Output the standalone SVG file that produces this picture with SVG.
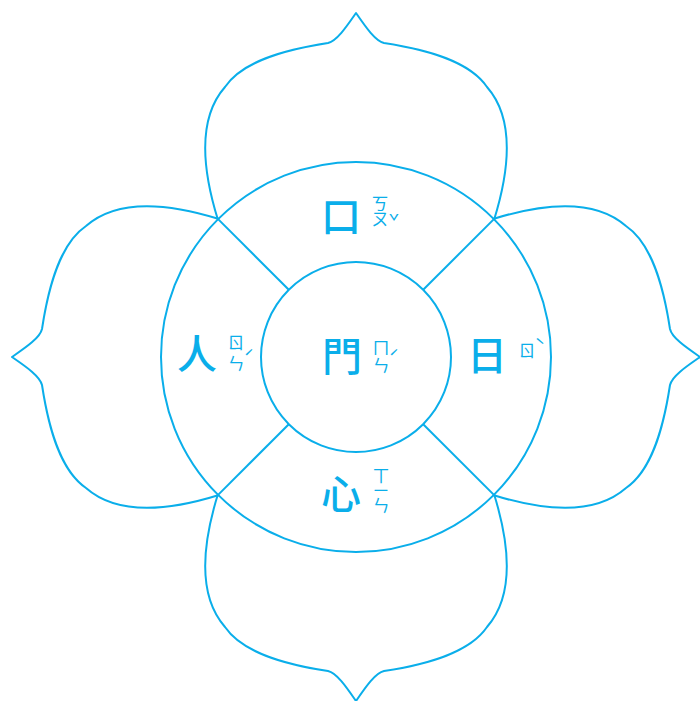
<svg xmlns="http://www.w3.org/2000/svg" width="700" height="701" viewBox="0 0 700 701">
<defs>
<style>
.ln{fill:none;stroke:#0aaeea;stroke-width:2;stroke-linejoin:round}
.big{font-family:"Noto Sans CJK TC","Noto Sans CJK SC",sans-serif;font-size:40px;font-weight:500;fill:#0aaeea;text-anchor:middle;dominant-baseline:central}
.zy{font-family:"Noto Sans CJK TC","Noto Sans CJK SC",sans-serif;font-size:17px;fill:#0aaeea;writing-mode:vertical-rl}
.tone{font-family:"Noto Sans CJK TC","Noto Sans CJK SC",sans-serif;font-size:18px;fill:#0aaeea;text-anchor:middle;dominant-baseline:central}
</style>
<path id="petal" d="M218,220 C204,175 196,120 225,87 C242,62 282,50 328,43 C337,41 347,26 356,13 C365,26 375,41 384,43 C430,50 470,62 487,87 C516,120 508,175 494,220"/>
</defs>
<rect width="700" height="701" fill="#ffffff"/>
<g id="petals" class="ln">
<use href="#petal"/>
<use href="#petal" transform="rotate(90 356 357)"/>
<use href="#petal" transform="rotate(180 356 357)"/>
<use href="#petal" transform="rotate(270 356 357)"/>
</g>
<g id="ring">
<circle class="ln" cx="356" cy="357" r="195"/>
</g>
<g id="connectors" class="ln">
<line x1="288.8" y1="289.8" x2="218.1" y2="219.1"/>
<line x1="423.2" y1="289.8" x2="493.9" y2="219.1"/>
<line x1="288.8" y1="424.2" x2="218.1" y2="494.9"/>
<line x1="423.2" y1="424.2" x2="493.9" y2="494.9"/>
</g>
<g id="center-men">
<circle class="ln" cx="356" cy="357" r="95"/>
<text class="big" x="342" y="354">門</text>
<text class="zy" x="381" y="339" letter-spacing="1">ㄇㄣ</text>
<text class="tone" x="394" y="357">ˊ</text>
</g>
<g id="kou">
<text class="big" x="341" y="214">口</text>
<text class="zy" x="380" y="195" letter-spacing="-2">ㄎㄡ</text>
<text class="tone" x="394" y="221">ˇ</text>
</g>
<g id="ren">
<text class="big" x="197" y="352">人</text>
<text class="zy" x="236" y="334" letter-spacing="4">ㄖㄣ</text>
<text class="tone" x="249" y="357">ˊ</text>
</g>
<g id="ri">
<text class="big" x="487" y="353">日</text>
<text class="zy" x="527" y="342">ㄖ</text>
<text class="tone" x="540" y="345">ˋ</text>
</g>
<g id="xin">
<text class="big" x="341" y="492">心</text>
<text class="zy" x="381" y="467" letter-spacing="-0.5">ㄒㄧㄣ</text>
</g>
</svg>
